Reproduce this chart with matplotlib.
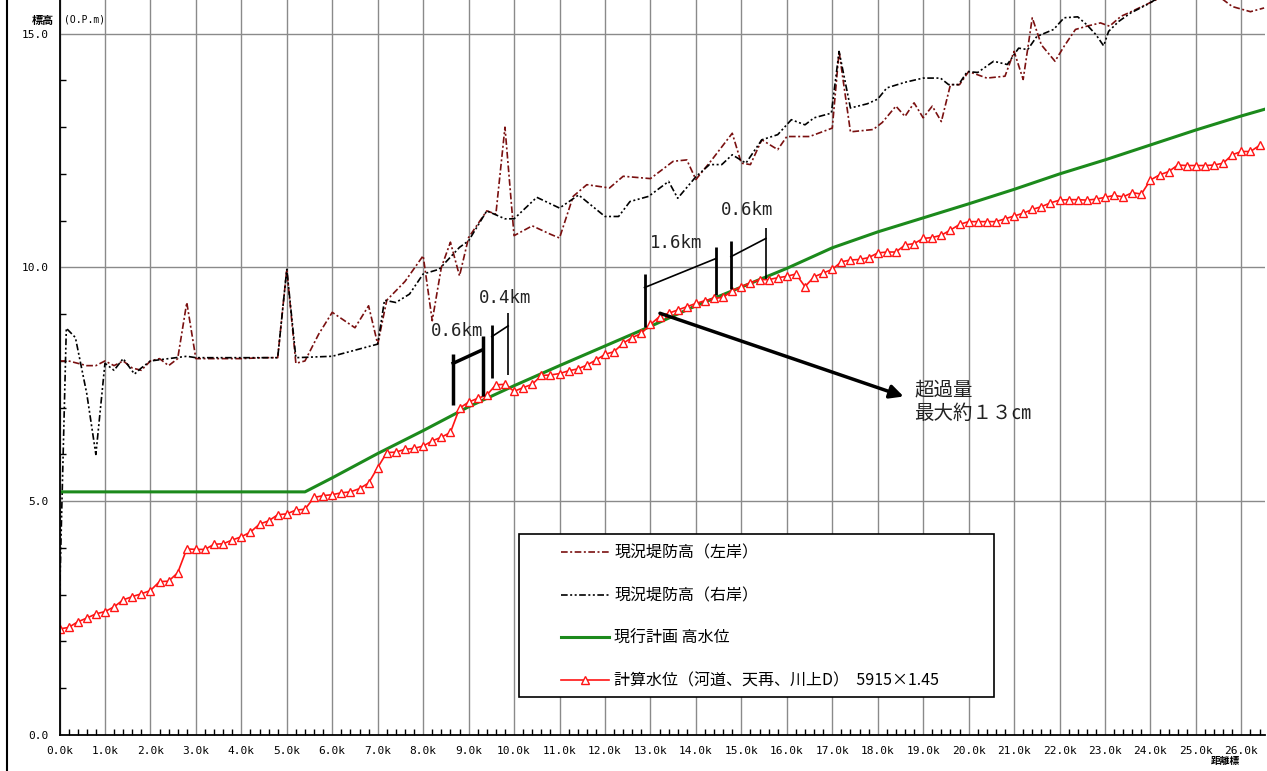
import numpy as np
import matplotlib
matplotlib.use("Agg")
import matplotlib.pyplot as plt
from matplotlib.lines import Line2D
from matplotlib.patches import Rectangle

plt.rcParams['font.family'] = ['Noto Sans CJK JP', 'DejaVu Sans']

# 距離標 (km)
km_posts = np.round(np.arange(0, 26.41, 0.2), 1)

# 計算水位 (河道、天再、川上D) 5915×1.45
calc_wl = [2.27, 2.30, 2.42, 2.50, 2.59, 2.64, 2.74, 2.89, 2.96, 3.02,
           3.09, 3.28, 3.29, 3.47, 3.98, 3.97, 3.97, 4.08, 4.09, 4.17,
           4.24, 4.34, 4.51, 4.58, 4.71, 4.73, 4.81, 4.83, 5.08, 5.12,
           5.14, 5.18, 5.20, 5.27, 5.39, 5.72, 6.04, 6.05, 6.11, 6.13,
           6.18, 6.29, 6.37, 6.47, 6.99, 7.12, 7.20, 7.27, 7.49, 7.50,
           7.35, 7.43, 7.50, 7.69, 7.70, 7.73, 7.79, 7.83, 7.91, 8.02,
           8.14, 8.20, 8.38, 8.50, 8.59, 8.78, 8.95, 9.02, 9.09, 9.16,
           9.23, 9.29, 9.34, 9.36, 9.50, 9.59, 9.67, 9.74, 9.74, 9.78,
           9.81, 9.86, 9.59, 9.80, 9.88, 9.96, 10.12, 10.16, 10.17, 10.21,
           10.31, 10.33, 10.33, 10.48, 10.51, 10.62, 10.64, 10.69, 10.80, 10.92,
           10.98, 10.98, 10.98, 10.98, 11.04, 11.10, 11.16, 11.24, 11.30, 11.38,
           11.44, 11.45, 11.45, 11.44, 11.46, 11.50, 11.54, 11.51, 11.60, 11.57,
           11.87, 11.98, 12.05, 12.19, 12.18, 12.18, 12.18, 12.19, 12.23, 12.41,
           12.48, 12.48, 12.61]

# 現行計画 高水位
hwl_km = [0, 5.4, 6, 7, 8, 9, 10, 11, 12, 13, 14, 15, 16, 17, 18, 19, 20,
          21, 22, 23, 24, 25, 26, 26.5]
hwl = [5.2, 5.2, 5.5, 6.02, 6.51, 7.02, 7.47, 7.9, 8.32, 8.74, 9.18, 9.58,
       9.98, 10.42, 10.76, 11.06, 11.36, 11.67, 12.0, 12.3, 12.62, 12.94,
       13.24, 13.38]

# 現況堤防高 (左岸)
left_km = [0.0, 0.2, 0.4, 0.6, 0.8, 1.0, 1.2, 1.4, 1.6, 1.8, 2.0, 2.2, 2.4,
           2.6, 2.8, 3.0, 3.5, 4.0, 4.5, 4.8, 5.0, 5.2, 5.4, 5.7, 6.0, 6.5,
           6.8, 7.0, 7.2, 7.6, 8.0, 8.2, 8.4, 8.6, 8.8, 9.0, 9.4, 9.6, 9.8,
           10.0, 10.4, 10.8, 11.0, 11.3, 11.6, 12.1, 12.4, 13.0, 13.5, 13.8,
           14.0, 14.35, 14.8, 15.0, 15.2, 15.45, 15.8, 16.0, 16.5, 17.0,
           17.15, 17.4, 17.9, 18.1, 18.4, 18.6, 18.8, 19.0, 19.2, 19.4, 19.6,
           19.8, 20.0, 20.4, 20.8, 21.0, 21.2, 21.4, 21.6, 21.9, 22.1, 22.35,
           22.6, 22.9, 23.1, 23.35, 23.6, 23.9, 24.5, 25.0, 25.5, 25.8, 26.2,
           26.5]
left_bank = [8.0, 8.0, 7.95, 7.9, 7.9, 8.0, 7.9, 8.0, 7.85, 7.8, 8.0, 8.05,
             7.9, 8.05, 9.25, 8.05, 8.05, 8.05, 8.07, 8.07, 9.96, 7.95, 8.0,
             8.57, 9.04, 8.71, 9.18, 8.36, 9.3, 9.7, 10.25, 8.86, 10.0, 10.54,
             9.82, 10.64, 11.21, 11.14, 13.0, 10.68, 10.89, 10.71, 10.63,
             11.52, 11.77, 11.7, 11.95, 11.9, 12.27, 12.3, 11.88, 12.3, 12.87,
             12.23, 12.2, 12.73, 12.52, 12.8, 12.8, 12.98, 14.62, 12.9, 12.95,
             13.1, 13.45, 13.23, 13.52, 13.2, 13.45, 13.12, 13.91, 13.91,
             14.19, 14.05, 14.09, 14.62, 14.02, 15.34, 14.76, 14.41, 14.73,
             15.09, 15.16, 15.23, 15.16, 15.37, 15.48, 15.62, 15.9, 16.0, 15.8,
             15.58, 15.47, 15.55]

# 現況堤防高 (右岸)
right_km = [0.0, 0.15, 0.35, 0.6, 0.8, 1.0, 1.2, 1.4, 1.65, 1.8, 2.0, 2.4,
            2.8, 3.0, 4.0, 4.8, 5.0, 5.2, 6.0, 7.0, 7.15, 7.4, 7.7, 8.0,
            8.35, 8.8, 9.0, 9.4, 9.8, 10.0, 10.5, 11.0, 11.42, 12.0, 12.3,
            12.55, 12.96, 13.4, 13.6, 14.0, 14.3, 14.57, 14.8, 15.1, 15.45,
            15.8, 16.1, 16.4, 16.6, 16.98, 17.15, 17.4, 17.77, 18.0, 18.2,
            18.6, 19.0, 19.38, 19.56, 19.78, 19.97, 20.2, 20.55, 20.85, 21.1,
            21.3, 21.5, 21.87, 22.1, 22.4, 22.6, 22.8, 22.97, 23.08, 23.3,
            23.56, 23.92, 24.5, 25.0, 26.0, 26.5]
right_bank = [2.9, 8.7, 8.5, 7.3, 6.0, 7.95, 7.8, 8.05, 7.72, 7.85, 8.0,
              8.05, 8.1, 8.07, 8.07, 8.07, 9.96, 8.07, 8.1, 8.36, 9.3, 9.25,
              9.43, 9.86, 9.96, 10.43, 10.57, 11.21, 11.04, 11.04, 11.5,
              11.27, 11.55, 11.09, 11.09, 11.41, 11.52, 11.84, 11.48, 11.94,
              12.2, 12.2, 12.41, 12.23, 12.73, 12.84, 13.16, 13.05, 13.2,
              13.3, 14.62, 13.41, 13.5, 13.6, 13.84, 13.96, 14.05, 14.05,
              13.91, 13.91, 14.19, 14.17, 14.41, 14.34, 14.69, 14.66, 14.94,
              15.09, 15.34, 15.36, 15.19, 14.98, 14.74, 15.05, 15.26, 15.44,
              15.62, 15.95, 16.1, 16.2, 16.3]

# 区間の括弧: (ラベル, ラベル位置, 縦線リスト[(x, y下, y上, 太さ)], 斜線)
spans = [
    ("0.6km", (8.75, 8.63), [(8.66, 7.06, 8.15, 2.5), (9.31, 7.24, 8.53, 2.5)],
     ((8.66, 7.95), (9.31, 8.24), 2.5)),
    ("0.4km", (9.80, 9.35), [(9.51, 7.64, 8.77, 2.0), (9.87, 7.70, 9.03, 1.2)],
     ((9.51, 8.52), (9.87, 8.75), 1.2)),
    ("1.6km", (13.56, 10.52), [(12.87, 8.73, 9.85, 2.0), (14.44, 9.41, 10.43, 2.0)],
     ((12.87, 9.57), (14.44, 10.19), 1.2)),
    ("0.6km", (15.13, 11.23), [(14.77, 9.54, 10.57, 2.0), (15.54, 9.75, 10.85, 1.2)],
     ((14.77, 10.23), (15.54, 10.62), 1.2)),
]

W, H = 1267, 771
fig = plt.figure(figsize=(W / 100, H / 100), dpi=100)
ax = fig.add_axes([59.5 / W, 36 / H, 1205.5 / W, 735 / H])
ax.set_xlim(0, 26.52)
ax.set_ylim(0, 15.72)

# grid
for v in range(0, 27):
    ax.axvline(v, color='#8a8a8a', lw=1.0, zorder=0)
for v in (5, 10, 15):
    ax.axhline(v, color='#8a8a8a', lw=1.0, zorder=0)

ax.plot(left_km, left_bank, color='#7a1010', lw=1.2,
        dashes=(4, 1.5, 1.2, 1.5), label='現況堤防高（左岸）', zorder=2)
ax.plot(right_km, right_bank, color='black', lw=1.2,
        dashes=(4, 1.5, 1.2, 1.5, 1.2, 1.5), label='現況堤防高（右岸）', zorder=2)
ax.plot(hwl_km, hwl, color='#1c8a1c', lw=2.2, label='現行計画 高水位', zorder=3)
ax.plot(km_posts, calc_wl, color='#ff1414', lw=1.2, marker='^', ms=5.5,
        mfc='white', mec='#ff1414', mew=1.0,
        label='計算水位（河道、天再、川上D）  5915×1.45', zorder=4)

# ticks
ax.set_xticks(range(0, 27))
ax.set_xticklabels([f"{v:.1f}k" for v in range(0, 27)], family='DejaVu Sans Mono', fontsize=8)
ax.set_yticks([0, 5, 10, 15])
ax.set_yticklabels([f"{v:.1f}" for v in (0, 5, 10, 15)], family='DejaVu Sans Mono', fontsize=8)
ax.set_xticks(np.arange(0, 26.5, 0.2), minor=True)
ax.set_yticks(range(0, 16), minor=True)
ax.tick_params(which='major', length=0, pad=8)
ax.tick_params(which='minor', direction='in', length=4, width=1, color='black')
for s in ('top', 'right'):
    ax.spines[s].set_visible(False)
for s in ('left', 'bottom'):
    ax.spines[s].set_linewidth(1.3)
    ax.spines[s].set_zorder(5)

# span brackets
for label, (tx, ty), verts, (p0, p1, lw) in spans:
    for x, y0, y1, vw in verts:
        ax.plot([x, x], [y0, y1], color='black', lw=vw, solid_capstyle='butt', zorder=5)
    ax.plot([p0[0], p1[0]], [p0[1], p1[1]], color='black', lw=lw, zorder=5)
    ax.text(tx, ty, label, family='DejaVu Sans Mono', fontsize=12.5,
            ha='center', va='center', color='#222222', zorder=6)

ax.annotate('', xy=(18.57, 7.24), xytext=(13.21, 9.02),
            arrowprops=dict(arrowstyle='-|>', lw=2.5, color='black',
                            mutation_scale=20, shrinkA=0, shrinkB=0), zorder=6)
ax.text(18.8, 7.13, '超過量\n最大約１３㎝', fontsize=14, ha='left', va='center',
        linespacing=1.15, color='#222222')

# legend
ax.add_patch(Rectangle((0.3812, 0.0517), 0.394, 0.2218, transform=ax.transAxes,
                       fill=True, facecolor='white', edgecolor='black', lw=1.2, zorder=7))
leg = ax.legend(loc='upper left', bbox_to_anchor=(0.416, 0.2595), frameon=False,
                fontsize=11.5, handlelength=3.0, handletextpad=0.35,
                labelspacing=1.62, borderpad=0, borderaxespad=0, numpoints=1)
leg.set_zorder(8)

fig.text(32 / W, 1 - 20 / H, '標高', fontsize=8, fontweight='bold', va='center')
fig.text(64 / W, 1 - 20 / H, '(O.P.m)', fontsize=7, family='DejaVu Sans Mono', va='center')
fig.text(1225 / W, 1 - 761 / H, '距離標', fontsize=7, fontweight='bold', ha='center', va='center')
fig.add_artist(Line2D([7 / W, 7 / W], [0, 1], transform=fig.transFigure, color='black', lw=1.5))

fig.savefig('out.png', dpi=100)
